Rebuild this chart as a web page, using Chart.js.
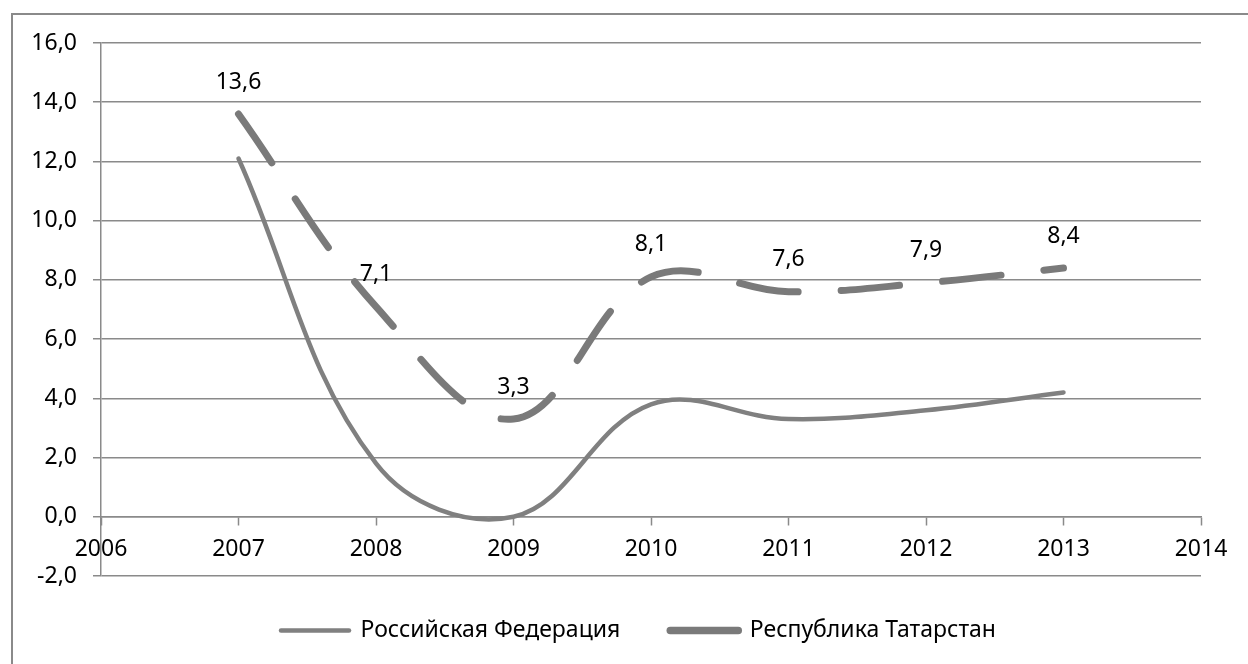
<!DOCTYPE html>
<html>
<head>
<meta charset="utf-8">
<script src="https://cdn.jsdelivr.net/npm/chart.js@4/dist/chart.umd.min.js"></script>
<style>
  html, body { margin: 0; padding: 0; background: #fff; }
  #wrap { position: relative; width: 1248px; height: 664px; overflow: hidden; }
  canvas { display: block; }
</style>
</head>
<body>
<div id="wrap"><canvas id="c" width="1248" height="664"></canvas></div>
<script>
// ---- data ----
const years = [2007, 2008, 2009, 2010, 2011, 2012, 2013];
const russiaValues = [12.1, 1.8, 0.0, 3.8, 3.3, 3.6, 4.2];
const tatarstanValues = [13.6, 7.1, 3.3, 8.1, 7.6, 7.9, 8.4];
const seriesNames = ['Российская Федерация', 'Республика Татарстан'];
const xTickLabels = [2006, 2007, 2008, 2009, 2010, 2011, 2012, 2013, 2014];
const yTickLabels = [-2, 0, 2, 4, 6, 8, 10, 12, 14, 16];

const FONT = 'Noto Sans';
const FS = 23;
const GRID = '#8a8a8a';
const LINE = '#808080';

const toPoints = vals => years.map((y, i) => ({ x: y, y: vals[i] }));
const fmt = v => v.toFixed(1).replace('.', ',');

const frame = {
  id: 'frame',
  beforeDraw(chart) {
    const ctx = chart.ctx;
    ctx.save();
    ctx.fillStyle = '#fff';
    ctx.fillRect(0, 0, chart.width, chart.height);
    ctx.strokeStyle = GRID;
    ctx.lineWidth = 2;
    ctx.beginPath();
    ctx.moveTo(12, chart.height + 5);
    ctx.lineTo(12, 14);
    ctx.lineTo(chart.width + 5, 14);
    ctx.stroke();
    ctx.restore();
  },
  afterLayout(chart) {
    const lg = chart.legend;
    if (lg) { lg.left += 38; lg.right += 38; lg.top -= 7; lg.bottom -= 7; }
  }
};

const dataLabels = {
  id: 'dataLabels',
  afterDatasetsDraw(chart) {
    const ctx = chart.ctx;
    const meta = chart.getDatasetMeta(1);
    const ds = chart.data.datasets[1];
    ctx.save();
    ctx.font = FS + 'px "' + FONT + '"';
    ctx.fillStyle = '#000';
    ctx.textAlign = 'center';
    ctx.textBaseline = 'middle';
    meta.data.forEach((pt, i) => {
      ctx.fillText(fmt(ds.data[i].y), pt.x, pt.y - 32);
    });
    ctx.restore();
  }
};

new Chart(document.getElementById('c'), {
  type: 'line',
  data: {
    datasets: [
      {
        label: seriesNames[0],
        data: toPoints(russiaValues),
        borderColor: LINE,
        backgroundColor: LINE,
        borderWidth: 4.5,
        tension: 0.38,
        pointRadius: 0,
        borderCapStyle: 'round',
        fill: false
      },
      {
        label: seriesNames[1],
        data: toPoints(tatarstanValues),
        borderColor: '#7a7a7a',
        backgroundColor: '#7a7a7a',
        borderWidth: 7,
        borderDash: [59, 43],
        borderCapStyle: 'round',
        tension: 0.38,
        pointRadius: 0,
        fill: false
      }
    ]
  },
  options: {
    responsive: false,
    devicePixelRatio: 1,
    animation: false,
    events: [],
    layout: { padding: { left: 0, right: 47, top: 43, bottom: 5 } },
    plugins: {
      tooltip: { enabled: false },
      legend: {
        position: 'bottom',
        labels: {
          font: { family: FONT, size: FS },
          color: '#000',
          usePointStyle: true,
          pointStyle: 'line',
          pointStyleWidth: 68,
          boxHeight: FS,
          padding: 50,
          generateLabels(chart) {
            return chart.data.datasets.map((ds, i) => ({
              text: ds.label,
              fillStyle: ds.borderColor,
              strokeStyle: ds.borderColor,
              lineWidth: i === 0 ? 4.5 : 7.5,
              lineDash: [],
              lineCap: 'round',
              pointStyle: 'line',
              fontColor: '#000',
              hidden: false,
              datasetIndex: i
            }));
          }
        }
      }
    },
    scales: {
      x: {
        type: 'linear',
        position: { y: 0 },
        min: 2006,
        max: 2014,
        afterFit(scale) { scale.height = 0; },
        afterBuildTicks(scale) { scale.ticks = xTickLabels.map(v => ({ value: v })); },
        ticks: {
          font: { family: FONT, size: FS },
          color: '#000',
          padding: 11,
          maxRotation: 0,
          autoSkip: false,
          callback: v => String(v)
        },
        grid: {
          drawOnChartArea: false,
          drawTicks: true,
          tickLength: 8,
          tickColor: GRID,
          tickWidth: 1.5
        },
        border: { display: true, color: GRID, width: 1.5 }
      },
      y: {
        min: -2,
        max: 16,
        afterFit(scale) { scale.width = 101; },
        afterBuildTicks(scale) { scale.ticks = yTickLabels.map(v => ({ value: v })); },
        ticks: {
          font: { family: FONT, size: FS },
          color: '#000',
          padding: 16,
          callback: v => fmt(v)
        },
        grid: {
          color: GRID,
          lineWidth: 1.5,
          tickLength: 8,
          tickColor: GRID
        },
        border: { display: true, color: GRID, width: 1.5 }
      }
    }
  },
  plugins: [frame, dataLabels]
});
</script>
</body>
</html>
